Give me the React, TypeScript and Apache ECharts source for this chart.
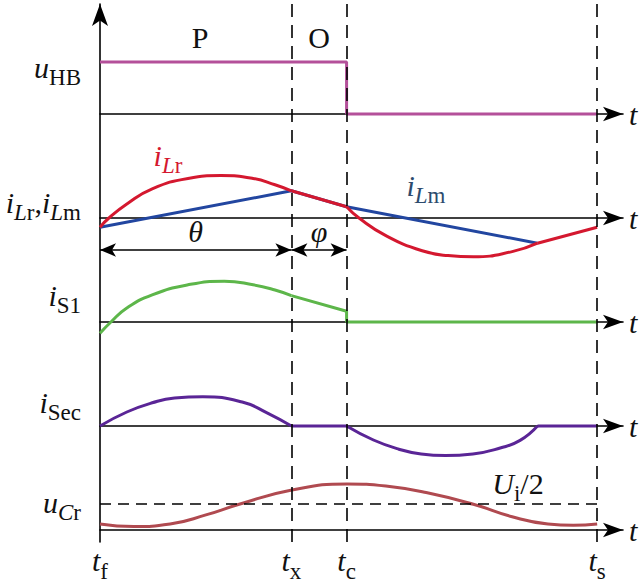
import { useEffect, useRef } from 'react';
import * as echarts from 'echarts';

const FONT = 'Liberation Serif';

// switching instants (t_f = 0, t_s = 100)
const T_X = 38.5;
const T_C = 49.6;
const T_S = 100;
const X_MAX = 105.2;

// bottom tick labels
const TICK_T = [0, T_X, T_C, T_S];
const TICK_SUB = ['f', 'x', 'c', 's'];

// u_HB
const uHbT = [0, T_C, T_C, T_S];
const uHbV = [1, 1, 0, 0];

// i_Lr (red)
const iLrRiseT = [0, 1.8, 5.4, 10.5, 17.7, 24.3, 30.8, 35.2, T_X];
const iLrRiseV = [-0.23, 0, 0.35, 0.73, 0.99, 1.06, 0.99, 0.83, 0.68];
const iLrOverT = [T_X, T_C];
const iLrOverV = [0.68, 0.28];
const iLrFallT = [T_C, 52.1, 57.5, 64.8, 70, 75.1, 82.9, 88];
const iLrFallV = [0.28, 0, -0.44, -0.82, -0.94, -0.97, -0.84, -0.63];
const iLrTailT = [88, T_S];
const iLrTailV = [-0.63, -0.23];

// i_Lm (blue)
const iLmT = [0, T_X, T_C, 88];
const iLmV = [-0.23, 0.68, 0.28, -0.63];

// i_S1 (green)
const iS1OnT = [0, 2.2, 5.4, 10.5, 17.7, 25, 30.8, 35.2, T_X];
const iS1OnV = [-0.28, 0, 0.35, 0.68, 0.93, 1.02, 0.93, 0.8, 0.66];
const iS1OffT = [T_X, T_C, T_C, T_S];
const iS1OffV = [0.66, 0.27, 0, 0];

// i_Sec (purple)
const iSecPosT = [0, 5.4, 10.5, 15, 20.7, 28.6, 33.6, T_X];
const iSecPosV = [0, 0.35, 0.58, 0.7, 0.73, 0.6, 0.33, 0];
const iSecGapT = [T_X, T_C];
const iSecGapV = [0, 0];
const iSecNegT = [T_C, 55, 60.1, 64.6, 69.5, 75, 80.5, 84.5, 88];
const iSecNegV = [0, -0.35, -0.58, -0.7, -0.74, -0.7, -0.55, -0.36, 0];
const iSecEndT = [88, T_S];
const iSecEndV = [0, 0];

// u_Cr (brown-red), U_i/2 = 1
const uCrT = [0, 6.8, 14.1, 21.3, 28, 38.6, 49.7, 57.5, 65.6, 75.1, 82.9, 90.1, 95.2, 100];
const uCrV = [0.23, 0.13, 0.23, 0.58, 0.99, 1.54, 1.77, 1.69, 1.44, 0.99, 0.51, 0.23, 0.18, 0.23];
const U_HALF = 1;
const ARROW_LEVEL = -0.8;

const C_HB = '#b4509a';
const C_LR = '#d4182f';
const C_LM = '#2246a0';
const C_LM_TEXT = '#2d4b6e';
const C_S1 = '#5db64a';
const C_SEC = '#5a2596';
const C_CR = '#b04a50';
const C_AX = '#000';
const C_TXT = '#111';

// layout of the five rows (axis pixel row, px per unit, y range)
const ROW_AXIS_Y = [114, 218, 322, 426, 530];
const ROW_SCALE = [52, 40, 40, 40, 26];
const ROW_RANGE: [number, number][] = [[-0.3, 1.3], [-1.25, 1.25], [-1.25, 1.25], [-1.25, 1.25], [-0.3, 2.1]];
const GRID_LEFT = 100;
const GRID_WIDTH = 523;

const zip = (t: number[], v: number[]) => t.map((x, i) => [x, v[i]]);

function rich(color: string, fill = true) {
  const k = fill ? 'fill' : 'color';
  return {
    m: { fontFamily: FONT, fontSize: 30, fontStyle: 'italic', lineHeight: 44, verticalAlign: 'middle', [k]: color },
    n: { fontFamily: FONT, fontSize: 30, fontStyle: 'normal', lineHeight: 44, verticalAlign: 'middle', [k]: color },
    s: { fontFamily: FONT, fontSize: 23, fontStyle: 'normal', lineHeight: 20, verticalAlign: 'bottom', [k]: color },
    si: { fontFamily: FONT, fontSize: 23, fontStyle: 'italic', lineHeight: 20, verticalAlign: 'bottom', [k]: color },
  };
}

function txt(text: string, x: number, y: number, color: string, align = 'right') {
  return {
    type: 'text',
    x,
    y,
    z: 10,
    style: {
      text,
      rich: rich(color),
      align,
      verticalAlign: 'middle',
      textAlign: align,
      textVerticalAlign: 'middle',
      fill: color,
      fontFamily: FONT,
      fontSize: 30,
    },
  };
}

function buildOption() {
  const grids: any[] = ROW_AXIS_Y.map((y0, i) => ({
    left: GRID_LEFT,
    width: GRID_WIDTH,
    top: y0 - ROW_SCALE[i] * ROW_RANGE[i][1],
    height: ROW_SCALE[i] * (ROW_RANGE[i][1] - ROW_RANGE[i][0]),
    outerBoundsMode: 'none',
  }));
  grids.push({ left: GRID_LEFT, width: GRID_WIDTH, top: 4, height: 538, outerBoundsMode: 'none' });
  grids.push({ left: GRID_LEFT, width: GRID_WIDTH, top: 0, height: 542, outerBoundsMode: 'none' });

  const axisLineStyle = { color: C_AX, width: 1.6 };

  const xAxes: any[] = ROW_AXIS_Y.map((_, i) => ({
    gridIndex: i,
    type: 'value',
    min: 0,
    max: X_MAX,
    axisLine: {
      show: true,
      onZero: true,
      symbol: ['none', 'arrow'],
      symbolSize: [11, 20],
      lineStyle: axisLineStyle,
    },
    axisTick: { show: false },
    splitLine: { show: false },
    axisLabel:
      i === 4
        ? {
            show: true,
            customValues: TICK_T,
            margin: 1,
            formatter: (v: number) => {
              let k = 0;
              TICK_T.forEach((tv, j) => {
                if (Math.abs(tv - v) < Math.abs(TICK_T[k] - v)) k = j;
              });
              return `{m|t}{s|${TICK_SUB[k]}}`;
            },
            rich: rich(C_TXT, false),
          }
        : { show: false },
    name: 't',
    nameLocation: 'end',
    nameGap: 6,
    nameTextStyle: { fontFamily: FONT, fontSize: 30, fontStyle: 'italic', color: C_TXT },
  }));
  xAxes.push({ gridIndex: 5, type: 'value', min: 0, max: X_MAX, show: false });
  xAxes.push({ gridIndex: 6, type: 'value', min: 0, max: X_MAX, show: false });

  const yAxes: any[] = ROW_RANGE.map((r, i) => ({
    gridIndex: i,
    type: 'value',
    min: r[0],
    max: r[1],
    show: false,
  }));
  yAxes.push({
    gridIndex: 5,
    type: 'value',
    min: 0,
    max: 1,
    axisLine: {
      show: true,
      onZero: false,
      symbol: ['none', 'arrow'],
      symbolSize: [12, 22],
      lineStyle: axisLineStyle,
    },
    axisTick: { show: false },
    axisLabel: { show: false },
    splitLine: { show: false },
  });
  yAxes.push({ gridIndex: 6, type: 'value', min: 0, max: 1, show: false });

  const line = (row: number, data: number[][], color: string, smooth = false, extra: any = {}) => ({
    type: 'line',
    xAxisIndex: row,
    yAxisIndex: row,
    data,
    smooth: smooth ? 0.5 : false,
    symbol: 'none',
    showSymbol: false,
    silent: true,
    lineStyle: { color, width: 3 },
    itemStyle: { color },
    z: 3,
    ...extra,
  });

  const series: any[] = [
    line(0, zip(uHbT, uHbV), C_HB),
    line(1, zip(iLmT, iLmV), C_LM, false, {
      markLine: {
        silent: true,
        symbol: ['arrow', 'arrow'],
        symbolSize: [10, 16],
        lineStyle: { color: C_AX, width: 1.6, type: 'solid' },
        itemStyle: { color: C_AX },
        label: {
          show: true,
          position: 'insideMiddleTop',
          distance: 4,
          formatter: '{b}',
          fontFamily: FONT,
          fontSize: 30,
          fontStyle: 'italic',
          color: C_TXT,
        },
        emphasis: { disabled: true },
        data: [
          [{ name: 'θ', coord: [0, ARROW_LEVEL] }, { coord: [T_X, ARROW_LEVEL] }],
          [{ name: 'φ', coord: [T_X, ARROW_LEVEL] }, { coord: [T_C, ARROW_LEVEL] }],
        ],
      },
    }),
    line(1, zip(iLrRiseT, iLrRiseV), C_LR, true),
    line(1, zip(iLrOverT, iLrOverV), C_LR),
    line(1, zip(iLrFallT, iLrFallV), C_LR, true),
    line(1, zip(iLrTailT, iLrTailV), C_LR),
    line(2, zip(iS1OnT, iS1OnV), C_S1, true),
    line(2, zip(iS1OffT, iS1OffV), C_S1),
    line(3, zip(iSecPosT, iSecPosV), C_SEC, true),
    line(3, zip(iSecGapT, iSecGapV), C_SEC),
    line(3, zip(iSecNegT, iSecNegV), C_SEC, true),
    line(3, zip(iSecEndT, iSecEndV), C_SEC),
    line(4, zip(uCrT, uCrV), C_CR, true, {
      markLine: {
        silent: true,
        symbol: 'none',
        lineStyle: { color: C_AX, width: 1.6, type: [11, 7] },
        label: { show: false },
        emphasis: { disabled: true },
        data: [[{ coord: [0, U_HALF] }, { coord: [T_S, U_HALF] }]],
      },
    }),
    {
      type: 'line',
      xAxisIndex: 6,
      yAxisIndex: 6,
      data: [[0, 0]],
      symbol: 'none',
      showSymbol: false,
      silent: true,
      lineStyle: { width: 0, opacity: 0 },
      z: 4,
      markLine: {
        silent: true,
        symbol: 'none',
        lineStyle: { color: C_AX, width: 1.6, type: [13, 8] },
        label: { show: false },
        emphasis: { disabled: true },
        data: [{ xAxis: T_X }, { xAxis: T_C }, { xAxis: T_S }],
      },
    },
  ];

  const graphic: any[] = [
    txt('{m|u}{s|HB}', 81, 67, C_TXT),
    txt('{m|i}{si|L}{s|r}{n|,}{m|i}{si|L}{s|m}', 81, 202, C_TXT),
    txt('{m|i}{s|S1}', 81, 295, C_TXT),
    txt('{m|i}{s|Sec}', 81, 402, C_TXT),
    txt('{m|u}{si|C}{s|r}', 81, 502, C_TXT),
    txt('{n|P}', 200, 37, C_TXT, 'center'),
    txt('{n|O}', 319, 37, C_TXT, 'center'),
    txt('{m|i}{si|L}{s|r}', 168, 155, C_LR, 'center'),
    txt('{m|i}{si|L}{s|m}', 426, 185, C_LM_TEXT, 'center'),
    txt('{m|U}{s|i}{n|/2}', 518, 483, C_TXT, 'center'),
  ];

  return {
    animation: false,
    backgroundColor: '#fff',
    grid: grids,
    xAxis: xAxes,
    yAxis: yAxes,
    series,
    graphic,
  };
}

export default function App() {
  const ref = useRef<HTMLDivElement>(null);
  useEffect(() => {
    if (!ref.current) return;
    const chart = echarts.init(ref.current, null, { renderer: 'svg' });
    chart.setOption(buildOption() as any);
    return () => chart.dispose();
  }, []);
  return (
    <div
      ref={ref}
      style={{ position: 'absolute', left: 0, top: 0, width: 642, height: 584, background: '#fff' }}
    />
  );
}
